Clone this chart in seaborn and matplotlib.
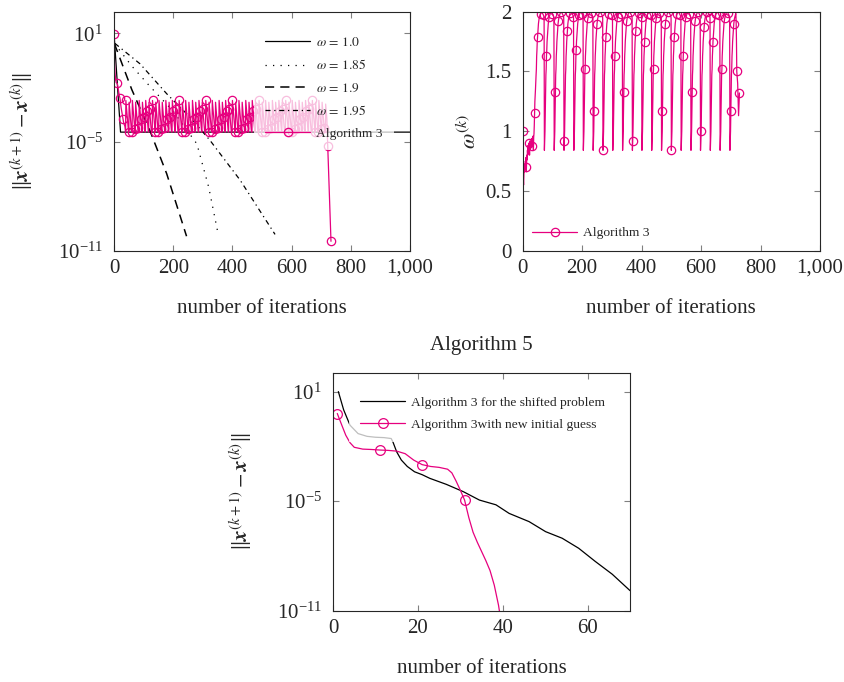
import matplotlib
matplotlib.use("Agg")
import matplotlib.pyplot as plt
import numpy as np
import pandas as pd
import seaborn as sns
from matplotlib.ticker import FuncFormatter, NullLocator, LogFormatterMathtext

MAGENTA = "#E6007E"

# ---------------------------------------------------------------------------
# Data (log10 of residuals, omega values)
# ---------------------------------------------------------------------------

# top-left: SOR with fixed omega
w10_it = [0, 22, 1000]
w10_log = [1.0, -4.45, -4.45]
w185_it = [1, 60, 120, 200, 280, 320, 352]
w185_log = [0.45, -0.8, -1.9, -3.3, -5.1, -7.5, -10.1]
w19_it = [1, 60, 122, 178, 245]
w19_log = [0.45, -2.1, -4.4, -6.75, -10.2]
w195_it = [3, 88, 178, 257, 324, 426, 544]
w195_log = [0.45, -0.68, -2.33, -3.63, -4.9, -7.1, -10.1]

# top-left: Algorithm 3 residual (iterations 0..39, then spikes, then tail)
res_start = [0.97, -0.2, -0.8, -1.1, -1.3, -1.45, -1.6, -1.7, -1.72, -1.74,
             -1.75, -1.76, -1.85, -1.95, -2.05, -2.15, -2.25, -2.35, -2.45, -2.5,
             -2.56, -2.7, -2.85, -3.0, -3.1, -3.2, -3.3, -3.4, -3.5, -3.63,
             -3.7, -3.8, -3.88, -3.95, -4.0, -4.05, -4.1, -4.15, -4.3, -4.45]
res_cycle = [-2.7, -2.9, -3.1, -3.3, -3.5, -3.7, -3.9, -4.1, -4.3, -4.45, -4.45,
             -2.8, -3.0, -3.2, -3.4, -3.6, -3.8, -4.0, -4.2, -4.4, -4.45, -4.45,
             -4.45]
res_spikes = [40, 62, 85, 107, 130, 152, 175, 197, 220, 242, 265, 287, 310, 332,
              355, 377, 400, 422, 445, 467, 490, 512, 535, 557, 580, 602, 625,
              647, 670, 692]
res_tail_it = [715, 716, 717, 718, 719, 720, 721, 722, 733]
res_tail = [-2.9, -3.1, -3.3, -3.5, -3.7, -4.2, -4.7, -5.22, -10.48]

# top-right: omega^(k) of Algorithm 3
omega_start = [1.0, 0.8, 0.6, 0.55, 0.62, 0.7, 0.66, 0.72, 0.68, 0.75,
               0.7, 0.78, 0.66, 0.74, 0.8, 0.76, 0.84, 0.8, 0.88, 0.82,
               0.9, 0.84, 0.88, 0.8, 0.86, 0.92, 0.85, 0.9, 0.86, 0.92,
               0.88, 0.94, 0.87, 0.93, 0.9, 0.96, 0.84, 0.95, 0.98, 1.05,
               1.15, 1.25, 1.3, 1.35, 1.42]
omega_cycle = [0.84, 0.92, 1.0, 1.17, 1.33, 1.47, 1.52, 1.63, 1.68, 1.75,
               1.79, 1.84, 1.87, 1.9, 1.92, 1.94, 1.95, 1.96, 1.97, 1.98,
               1.985, 1.99, 1.995, 2.0, 2.0, 1.995, 1.99, 1.985, 1.98, 1.975,
               1.97, 1.96, 1.95]
omega_dips = [73, 106, 139, 172, 204, 237, 270, 303, 336, 369, 401, 434, 467,
              500, 533, 566, 598, 631, 664, 697]
omega_tail = [1.9, 1.75, 1.5, 1.47, 1.45, 1.4, 1.3, 1.2, 1.13, 1.2, 1.28, 1.32]

# bottom: Algorithm 5
shift_it = [1.25, 2.5, 4, 5.9, 8, 10, 12, 13.7, 14.1, 15, 16.1, 17.5, 19.2, 21,
            22.8, 26.7, 30.7, 34.5, 38.4, 41.5, 46.2, 50.1, 54, 57.9, 61.8, 65.8, 70]
shift_log = [1.0, 0.0, -0.84, -1.3, -1.45, -1.5, -1.52, -1.57, -1.75, -2.3, -2.75,
             -3.1, -3.39, -3.55, -3.75, -4.08, -4.48, -4.94, -5.2, -5.67, -6.12,
             -6.67, -7.03, -7.58, -8.3, -9.0, -9.9]
guess_it = [1, 2, 3, 4, 5, 7, 9, 11, 13, 15, 17, 19, 21, 23, 25, 27, 28, 29, 30,
            31, 32, 33, 34, 35, 36, 37, 38, 39, 39.4]
guess_log = [-0.2, -0.8, -1.39, -1.8, -2.05, -2.15, -2.17, -2.2, -2.22, -2.26,
             -2.4, -2.75, -3.0, -3.1, -3.15, -3.25, -3.45, -3.9, -4.4, -4.94,
             -5.9, -6.7, -7.25, -7.75, -8.25, -8.8, -9.6, -10.7, -11.3]


def build_cycles(starts, stop, cycle):
    out = []
    bounds = starts + [stop]
    for a, b in zip(bounds[:-1], bounds[1:]):
        out.extend(cycle[:b - a])
    return out


res_log = res_start + build_cycles(res_spikes, res_tail_it[0], res_cycle) + res_tail
res_it = list(range(0, res_tail_it[7] + 1)) + res_tail_it[8:]
omega_vals = omega_start + omega_cycle[5:] + build_cycles(omega_dips, 718, omega_cycle) + omega_tail
omega_it = list(range(len(omega_vals)))

# ---------------------------------------------------------------------------
# Style
# ---------------------------------------------------------------------------
sns.set_theme(style="ticks")
plt.rcParams["font.family"] = ["Liberation Serif", "DejaVu Serif"]
plt.rcParams["mathtext.fontset"] = "stix"
plt.rcParams["axes.edgecolor"] = "0.15"
plt.rcParams["axes.linewidth"] = 0.8

TICK_FS = 15
LEG_FS = 9.7
YLAB = r"$\|\boldsymbol{x}^{(k+1)} - \boldsymbol{x}^{(k)}\|$"
LEG_KW = dict(borderaxespad=0, fontsize=LEG_FS, frameon=True, framealpha=0.75,
              facecolor="white", edgecolor="none", fancybox=False,
              handlelength=3.36, handletextpad=0.45, labelspacing=0.72,
              numpoints=1)


def style_axis(ax):
    ax.tick_params(direction="in", length=4, width=0.8, color="0.5",
                   top=True, right=True, labelsize=TICK_FS, pad=6)
    ax.tick_params(axis="y", pad=8)
    for s in ax.spines.values():
        s.set_visible(True)
        s.set_color("0.15")


def log_axis(ax, top):
    ax.set_yscale("log")
    ax.set_ylim(1e-11, 10 ** top)
    ax.set_yticks([1e1, 1e-5, 1e-11])
    ax.yaxis.set_major_formatter(LogFormatterMathtext())
    ax.yaxis.set_minor_locator(NullLocator())


fig = plt.figure(figsize=(8.44, 6.82), dpi=100)
ax1 = fig.add_axes([0.1351, 0.6324, 0.3507, 0.3504])
ax2 = fig.add_axes([0.6193, 0.6324, 0.3523, 0.3504])
ax3 = fig.add_axes([0.3946, 0.1045, 0.3519, 0.3481])

thou = FuncFormatter(lambda v, p: f"{v:,.0f}")

# --- top-left --------------------------------------------------------------
sns.lineplot(x=w10_it, y=10 ** np.array(w10_log), ax=ax1, color="black", lw=0.9,
             label=r"$\omega\,=\,1.0$")
sns.lineplot(x=w185_it, y=10 ** np.array(w185_log), ax=ax1, color="black", lw=0.9,
             linestyle=(0, (1, 5)), label=r"$\omega\,=\,1.85$")
sns.lineplot(x=w19_it, y=10 ** np.array(w19_log), ax=ax1, color="black", lw=1.1,
             linestyle=(0, (6, 4)), label=r"$\omega\,=\,1.9$")
sns.lineplot(x=w195_it, y=10 ** np.array(w195_log), ax=ax1, color="black", lw=0.9,
             linestyle=(0, (4, 3, 1, 3)), label=r"$\omega\,=\,1.95$")
res_marks = list(range(0, 715, 10)) + [len(res_it) - 2, len(res_it) - 1]
sns.lineplot(x=res_it, y=10 ** np.array(res_log), ax=ax1, color=MAGENTA, lw=0.9,
             marker="o", markersize=6, markerfacecolor="none",
             markeredgecolor=MAGENTA, markeredgewidth=0.9, markevery=res_marks,
             label="Algorithm 3", estimator=None, sort=False)
log_axis(ax1, 2.2)
ax1.set_xlim(0, 1000)
ax1.set_xticks([0, 200, 400, 600, 800, 1000])
ax1.xaxis.set_major_formatter(thou)
ax1.set_xlabel("number of iterations", fontsize=TICK_FS, labelpad=15)
ax1.set_ylabel(YLAB, fontsize=TICK_FS, labelpad=16)
style_axis(ax1)
ax1.legend(loc="upper left", bbox_to_anchor=(0.474, 0.945), borderpad=0.8, **LEG_KW)

# --- top-right -------------------------------------------------------------
om_marks = list(range(0, 721, 10)) + [len(omega_it) - 1]
sns.lineplot(x=omega_it, y=omega_vals, ax=ax2, color=MAGENTA, lw=0.9,
             marker="o", markersize=6, markerfacecolor="none",
             markeredgecolor=MAGENTA, markeredgewidth=0.9, markevery=om_marks,
             label="Algorithm 3", estimator=None, sort=False)
ax2.set_xlim(0, 1000)
ax2.set_ylim(0, 2)
ax2.set_xticks([0, 200, 400, 600, 800, 1000])
ax2.xaxis.set_major_formatter(thou)
ax2.set_yticks([0, 0.5, 1, 1.5, 2])
ax2.yaxis.set_major_formatter(FuncFormatter(lambda v, p: f"{v:g}"))
ax2.set_xlabel("number of iterations", fontsize=TICK_FS, labelpad=15)
ax2.set_ylabel(r"$\omega^{(k)}$", fontsize=TICK_FS + 1, labelpad=3)
style_axis(ax2)
ax2.legend(loc="lower left", bbox_to_anchor=(0.013, 0.025), borderpad=0.4, **LEG_KW)

# --- bottom ----------------------------------------------------------------
sns.lineplot(x=shift_it, y=10 ** np.array(shift_log), ax=ax3, color="black", lw=0.9,
             label="Algorithm 3 for the shifted problem", estimator=None, sort=False)
sns.lineplot(x=guess_it, y=10 ** np.array(guess_log), ax=ax3, color=MAGENTA, lw=0.9,
             marker="o", markersize=7, markerfacecolor="none",
             markeredgecolor=MAGENTA, markeredgewidth=0.9, markevery=[0, 7, 12, 19],
             label="Algorithm 3with new initial guess", estimator=None, sort=False)
log_axis(ax3, 2.0)
ax3.set_xlim(0, 70)
ax3.set_xticks([0, 20, 40, 60])
ax3.set_xlabel("number of iterations", fontsize=TICK_FS, labelpad=15)
ax3.set_ylabel(YLAB, fontsize=TICK_FS, labelpad=16)
ax3.set_title("Algorithm 5", fontsize=TICK_FS, pad=17)
style_axis(ax3)
ax3.legend(loc="upper left", bbox_to_anchor=(0.055, 0.948), borderpad=0.8, **LEG_KW)

fig.savefig("out.png", dpi=100)
plt.close(fig)
